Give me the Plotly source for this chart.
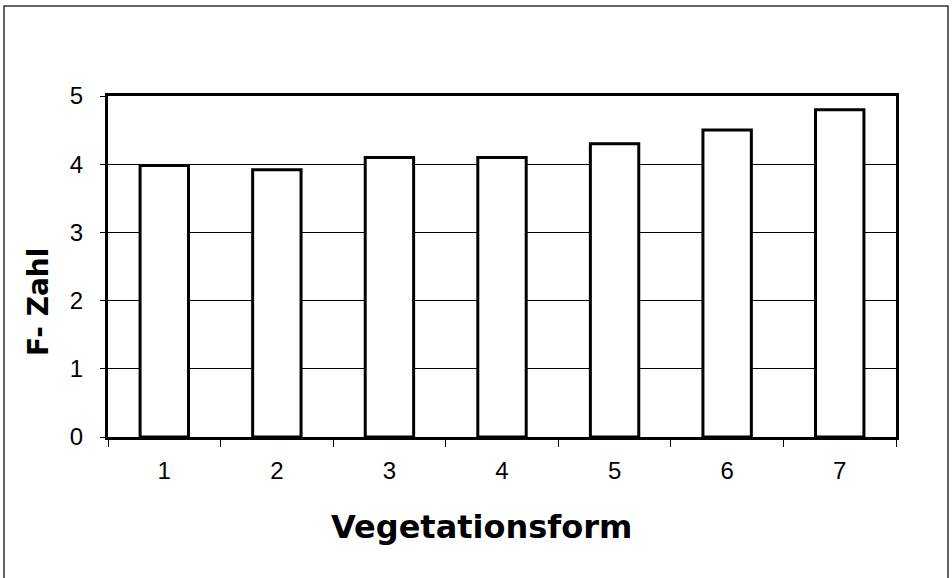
import plotly.graph_objects as go

# Vegetationsform 1-7 and their mean F-Zahl
vegetationsform = [1, 2, 3, 4, 5, 6, 7]
f_zahl = [3.98, 3.92, 4.1, 4.1, 4.3, 4.5, 4.8]
y_ticks = [0, 1, 2, 3, 4, 5]

W, H = 952, 578
L, R, T, B = 108, 56, 96, 141
pw, ph = W - L - R, H - T - B


def px(x):
    return (x - L) / pw


def py(y):
    return (H - B - y) / ph


fig = go.Figure(go.Bar(
    x=vegetationsform, y=f_zahl,
    marker=dict(color="white", line=dict(color="black", width=3)),
))

fig.update_layout(
    width=W, height=H,
    margin=dict(l=L, r=R, t=T, b=B),
    paper_bgcolor="white", plot_bgcolor="white",
    bargap=0.57, showlegend=False,
    font=dict(family="Liberation Sans", size=24, color="black"),
)

fig.update_xaxes(
    range=[0.5, 7.5], tickvals=vegetationsform, ticks="",
    ticklabelstandoff=10,
    showline=True, linecolor="black", linewidth=3, mirror=True,
    showgrid=False, zeroline=False,
    minor=dict(ticks="outside", tick0=0.5, dtick=1, ticklen=7,
               tickcolor="black", tickwidth=1, showgrid=False),
)
fig.update_yaxes(
    range=[0, 5], tickvals=y_ticks, ticks="outside", ticklen=5,
    tickcolor="black", ticklabelstandoff=12,
    showline=True, linecolor="black", linewidth=3, mirror=True,
    showgrid=True, gridcolor="black", gridwidth=1, zeroline=False,
)

# axis titles
fig.add_annotation(text="<b>Vegetationsform</b>", xref="paper", yref="paper",
                   x=px(481), y=py(527), xanchor="center", yanchor="middle",
                   showarrow=False,
                   font=dict(family="DejaVu Sans", size=32, color="black"))
fig.add_annotation(text="<b>F- Zahl</b>", xref="paper", yref="paper",
                   x=px(38), y=py(302), xanchor="center", yanchor="middle",
                   showarrow=False, textangle=-90,
                   font=dict(family="DejaVu Sans", size=28, color="black"))

# outer frame
fig.add_shape(type="rect", xref="paper", yref="paper",
              x0=px(4), x1=px(948), y0=py(600), y1=py(6),
              line=dict(color="#333333", width=1.5))

fig.write_html("out.html", config={"displayModeBar": False},
               post_script="document.body.style.margin='0';")
